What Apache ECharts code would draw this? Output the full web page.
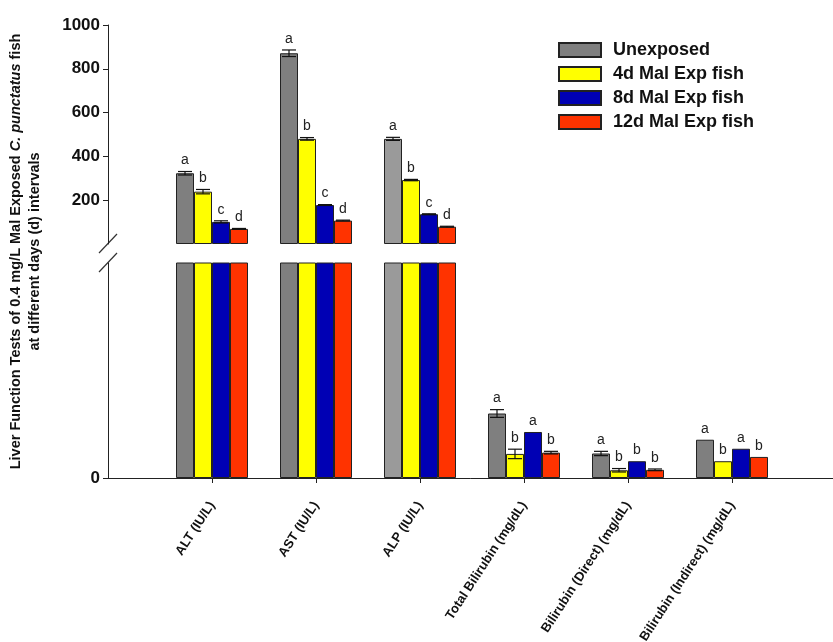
<!DOCTYPE html>
<html>
<head>
<meta charset="utf-8">
<script src="https://cdn.jsdelivr.net/npm/echarts@6/dist/echarts.min.js"></script>
<style>
  html, body { margin: 0; padding: 0; background: #fff; }
  #chart { width: 833px; height: 642px; }
</style>
</head>
<body>
<div id="chart"></div>
<script>
// Liver function tests, four exposure groups, broken y axis
const categories = ['ALT (IU/L)', 'AST (IU/L)', 'ALP (IU/L)', 'Total Bilirubin (mg/dL)',
                    'Bilirubin (Direct) (mg/dL)', 'Bilirubin (Indirect) (mg/dL)'];
const seriesNames = ['Unexposed', '4d Mal Exp fish', '8d Mal Exp fish', '12d Mal Exp fish'];

const unexposed = [323, 871, 480, 1.50, 0.57, 0.89];
const exp4d     = [239, 480, 292, 0.56, 0.18, 0.39];
const exp8d     = [101, 178, 136, 1.07, 0.39, 0.68];
const exp12d    = [69, 107, 79, 0.59, 0.19, 0.49];

const errUnexposed = [8, 15, 7, 0.09, 0.05, 0];
const err4d        = [10, 6, 3, 0.11, 0.04, 0];
const err8d        = [5, 2, 2, 0, 0, 0];
const err12d       = [2, 2, 2, 0.03, 0.02, 0];

const lettersUnexposed = ['a', 'a', 'a', 'a', 'a', 'a'];
const letters4d        = ['b', 'b', 'b', 'b', 'b', 'b'];
const letters8d        = ['c', 'c', 'c', 'a', 'b', 'a'];
const letters12d       = ['d', 'd', 'd', 'b', 'b', 'b'];

const upperTicks = [200, 400, 600, 800, 1000];
const lowerTicks = [0];
const upperRange = [0, 1000];
const lowerRange = [0, 5];

// ---- layout & style ----
const GRID_LEFT = 108, GRID_WIDTH = 728;
const UPPER_TOP = 25, UPPER_H = 219;
const LOWER_TOP = 263, LOWER_H = 215;
const BAR_W = 18;
const CAP_HALF = 7;
const FONT = '"Liberation Sans", Arial, sans-serif';
const colors = ['#7f7f7f', '#ffff00', '#0000b4', '#ff3300'];
const lightGray = '#9a9a9a';

const values = [unexposed, exp4d, exp8d, exp12d];
const errors = [errUnexposed, err4d, err8d, err12d];
const letters = [lettersUnexposed, letters4d, letters8d, letters12d];

// padded category axis: an empty slot on each side
const axisCats = [''].concat(categories, ['']);
const padded = arr => ['-'].concat(arr, ['-']);
const lastIdx = axisCats.length - 1;
const inner = idx => idx > 0 && idx < lastIdx;

function barData(k, forUpper) {
  return padded(values[k].map((v, i) => {
    if (forUpper && v <= lowerRange[1]) return '-';
    const item = { value: v };
    if (k === 0 && i === 2) item.itemStyle = { color: lightGray };
    return item;
  }));
}

function errItems(k, forUpper) {
  const out = [];
  values[k].forEach((v, i) => {
    const isUpper = v > lowerRange[1];
    if (isUpper === forUpper) out.push([i + 1, v, errors[k][i], letters[k][i]]);
  });
  return out;
}

function errRenderer(k, items) {
  const offset = (k - 1.5) * BAR_W;
  return function (params, api) {
    const it = items[params.dataIndex];
    const xi = it[0], v = it[1], e = it[2];
    const top = api.coord([xi, v + e]);
    const low = api.coord([xi, v - e]);
    const x = top[0] + offset;
    const children = [];
    const lineStyle = { stroke: '#111', lineWidth: 1.2 };
    if (e > 0) {
      children.push({ type: 'line', shape: { x1: x, y1: top[1], x2: x, y2: low[1] }, style: lineStyle });
      children.push({ type: 'line', shape: { x1: x - CAP_HALF, y1: top[1], x2: x + CAP_HALF, y2: top[1] }, style: lineStyle });
      children.push({ type: 'line', shape: { x1: x - CAP_HALF, y1: low[1], x2: x + CAP_HALF, y2: low[1] }, style: lineStyle });
    }
    children.push({
      type: 'text',
      style: {
        x: x, y: top[1] - 11, text: it[3],
        textAlign: 'center', textVerticalAlign: 'middle',
        fontSize: 14, fontFamily: FONT, fill: '#222'
      }
    });
    return { type: 'group', children: children };
  };
}

const series = [];
seriesNames.forEach((name, k) => {
  const style = { color: colors[k], borderColor: '#222', borderWidth: 1 };
  series.push({
    name: name, type: 'bar', xAxisIndex: 0, yAxisIndex: 0,
    barWidth: BAR_W, barGap: '0%', itemStyle: style,
    data: barData(k, true), animation: false
  });
  series.push({
    name: name, type: 'bar', xAxisIndex: 1, yAxisIndex: 1,
    barWidth: BAR_W, barGap: '0%', itemStyle: style,
    data: barData(k, false), animation: false
  });
});
seriesNames.forEach((name, k) => {
  [true, false].forEach(forUpper => {
    const items = errItems(k, forUpper);
    series.push({
      type: 'custom', xAxisIndex: forUpper ? 0 : 1, yAxisIndex: forUpper ? 0 : 1,
      data: items, renderItem: errRenderer(k, items), z: 5,
      silent: true, animation: false, clip: false
    });
  });
});

const axisLineStyle = { color: '#222', width: 1 };
const plainNumber = v => String(v);

// break marks where the two axis segments meet
const breakMarks = [UPPER_TOP + UPPER_H - 0.5, LOWER_TOP - 0.5].map(cy => ({
  type: 'line',
  shape: { x1: GRID_LEFT - 9, y1: cy + 9.5, x2: GRID_LEFT + 9, y2: cy - 9.5 },
  style: { stroke: '#333', lineWidth: 1.2 }
}));

const midY = (UPPER_TOP + LOWER_TOP + LOWER_H) / 2;

const option = {
  backgroundColor: '#fff',
  animation: false,
  textStyle: { fontFamily: FONT },
  grid: [
    { left: GRID_LEFT, top: UPPER_TOP, width: GRID_WIDTH, height: UPPER_H, outerBoundsMode: 'none' },
    { left: GRID_LEFT, top: LOWER_TOP, width: GRID_WIDTH, height: LOWER_H, outerBoundsMode: 'none' }
  ],
  xAxis: [
    { type: 'category', gridIndex: 0, data: axisCats, boundaryGap: false, show: false },
    {
      type: 'category', gridIndex: 1, data: axisCats, boundaryGap: false,
      axisLine: { lineStyle: axisLineStyle },
      axisTick: { length: 5, interval: inner, lineStyle: axisLineStyle },
      axisLabel: {
        interval: inner, rotate: 57, margin: 25,
        fontSize: 13, fontWeight: 'bold', color: '#111', fontFamily: FONT
      }
    }
  ],
  yAxis: [
    {
      type: 'value', gridIndex: 0, min: upperRange[0], max: upperRange[1],
      splitLine: { show: false },
      axisLine: { show: true, lineStyle: axisLineStyle },
      axisTick: { show: true, length: 5, customValues: upperTicks, lineStyle: axisLineStyle },
      axisLabel: { customValues: upperTicks, formatter: plainNumber, fontSize: 17, fontWeight: 'bold', color: '#111', margin: 8, fontFamily: FONT }
    },
    {
      type: 'value', gridIndex: 1, min: lowerRange[0], max: lowerRange[1],
      splitLine: { show: false },
      axisLine: { show: true, lineStyle: axisLineStyle },
      axisTick: { show: true, length: 5, customValues: lowerTicks, lineStyle: axisLineStyle },
      axisLabel: { customValues: lowerTicks, formatter: plainNumber, fontSize: 17, fontWeight: 'bold', color: '#111', margin: 8, fontFamily: FONT }
    }
  ],
  legend: {
    data: seriesNames, orient: 'vertical', left: 553, top: 36,
    itemWidth: 42, itemHeight: 14, itemGap: 6, icon: 'rect',
    textStyle: { fontSize: 18, fontWeight: 'bold', color: '#111', fontFamily: FONT, padding: [0, 0, 0, 7] }
  },
  graphic: breakMarks.concat([
    {
      type: 'text', x: 16, y: midY, rotation: Math.PI / 2,
      style: {
        text: 'Liver Function Tests of 0.4 mg/L Mal Exposed {i|C. punctatus} fish',
        textAlign: 'center', textVerticalAlign: 'middle',
        font: 'bold 14.5px ' + FONT, fill: '#111',
        rich: { i: { fontStyle: 'italic', fontWeight: 'bold', fontSize: 14.5, fontFamily: FONT, fill: '#111' } }
      }
    },
    {
      type: 'text', x: 35, y: midY, rotation: Math.PI / 2,
      style: {
        text: 'at different days (d) intervals',
        textAlign: 'center', textVerticalAlign: 'middle',
        font: 'bold 14.5px ' + FONT, fill: '#111'
      }
    }
  ]),
  series: series
};

const chart = echarts.init(document.getElementById('chart'), null, { renderer: 'canvas' });
chart.setOption(option);
</script>
</body>
</html>
